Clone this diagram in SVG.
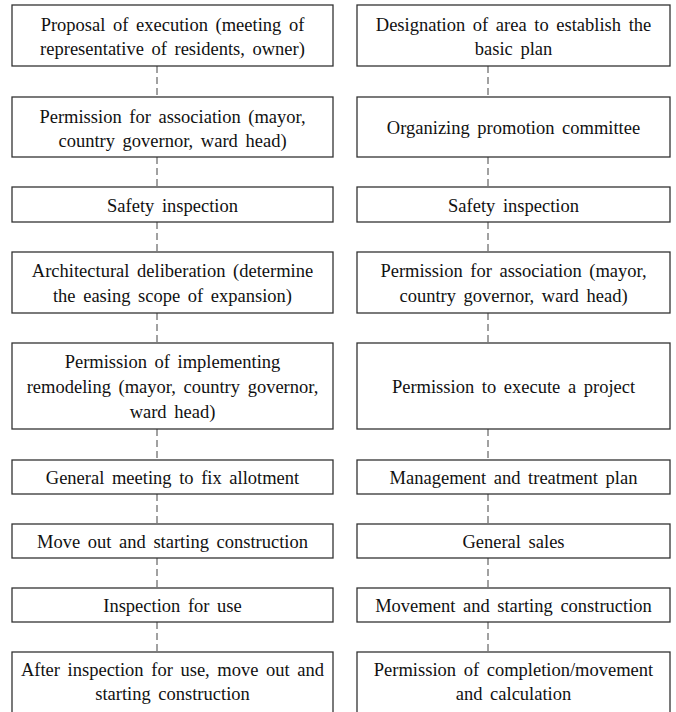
<svg xmlns="http://www.w3.org/2000/svg" width="676" height="712" viewBox="0 0 676 712">
<rect width="676" height="712" fill="#fff"/>
<g id="connectors" stroke="#555" stroke-width="1.1" stroke-dasharray="7 4" fill="none">
<line x1="157" y1="66" x2="157" y2="97"/>
<line x1="157" y1="157" x2="157" y2="187"/>
<line x1="157" y1="222" x2="157" y2="252"/>
<line x1="157" y1="313" x2="157" y2="343"/>
<line x1="157" y1="429" x2="157" y2="460"/>
<line x1="157" y1="494" x2="157" y2="524"/>
<line x1="157" y1="558" x2="157" y2="588"/>
<line x1="157" y1="622" x2="157" y2="652"/>
<line x1="488" y1="66" x2="488" y2="97"/>
<line x1="488" y1="157" x2="488" y2="187"/>
<line x1="488" y1="222" x2="488" y2="252"/>
<line x1="488" y1="313" x2="488" y2="343"/>
<line x1="488" y1="429" x2="488" y2="460"/>
<line x1="488" y1="494" x2="488" y2="524"/>
<line x1="488" y1="558" x2="488" y2="588"/>
<line x1="488" y1="622" x2="488" y2="652"/>
</g>
<g id="nodes" font-family="Times New Roman, Liberation Serif, serif" font-size="18.5" word-spacing="3" fill="#111" text-anchor="middle">
<g id="L1"><rect fill="#fff" stroke="#333" stroke-width="1.3" x="12" y="5" width="321" height="61"/><text font-family="Times New Roman, Liberation Serif, serif" x="172.5" y="30.5">Proposal of execution (meeting of</text><text font-family="Times New Roman, Liberation Serif, serif" x="172.5" y="54.5">representative of residents, owner)</text></g>
<g id="L2"><rect fill="#fff" stroke="#333" stroke-width="1.3" x="12" y="97" width="321" height="60"/><text font-family="Times New Roman, Liberation Serif, serif" x="172.5" y="122.5">Permission for association (mayor,</text><text font-family="Times New Roman, Liberation Serif, serif" x="172.5" y="146.5">country governor, ward head)</text></g>
<g id="L3"><rect fill="#fff" stroke="#333" stroke-width="1.3" x="12" y="187" width="321" height="35"/><text font-family="Times New Roman, Liberation Serif, serif" x="172.5" y="211.5">Safety inspection</text></g>
<g id="L4"><rect fill="#fff" stroke="#333" stroke-width="1.3" x="12" y="252" width="321" height="61"/><text font-family="Times New Roman, Liberation Serif, serif" x="172.5" y="277">Architectural deliberation (determine</text><text font-family="Times New Roman, Liberation Serif, serif" x="172.5" y="301.5">the easing scope of expansion)</text></g>
<g id="L5"><rect fill="#fff" stroke="#333" stroke-width="1.3" x="12" y="343" width="321" height="86"/><text font-family="Times New Roman, Liberation Serif, serif" x="172.5" y="368">Permission of implementing</text><text font-family="Times New Roman, Liberation Serif, serif" x="172.5" y="393">remodeling (mayor, country governor,</text><text font-family="Times New Roman, Liberation Serif, serif" x="172.5" y="418">ward head)</text></g>
<g id="L6"><rect fill="#fff" stroke="#333" stroke-width="1.3" x="12" y="460" width="321" height="34"/><text font-family="Times New Roman, Liberation Serif, serif" x="172.5" y="483.5">General meeting to fix allotment</text></g>
<g id="L7"><rect fill="#fff" stroke="#333" stroke-width="1.3" x="12" y="524" width="321" height="34"/><text font-family="Times New Roman, Liberation Serif, serif" x="172.5" y="547.5">Move out and starting construction</text></g>
<g id="L8"><rect fill="#fff" stroke="#333" stroke-width="1.3" x="12" y="588" width="321" height="34"/><text font-family="Times New Roman, Liberation Serif, serif" x="172.5" y="611.5">Inspection for use</text></g>
<g id="L9"><rect fill="#fff" stroke="#333" stroke-width="1.3" x="12" y="652" width="321" height="62"/><text font-family="Times New Roman, Liberation Serif, serif" x="172.5" y="675.5">After inspection for use, move out and</text><text font-family="Times New Roman, Liberation Serif, serif" x="172.5" y="700">starting construction</text></g>
<g id="R1"><rect fill="#fff" stroke="#333" stroke-width="1.3" x="357" y="5" width="313" height="61"/><text font-family="Times New Roman, Liberation Serif, serif" x="513.5" y="30.5">Designation of area to establish the</text><text font-family="Times New Roman, Liberation Serif, serif" x="513.5" y="54.5">basic plan</text></g>
<g id="R2"><rect fill="#fff" stroke="#333" stroke-width="1.3" x="357" y="97" width="313" height="60"/><text font-family="Times New Roman, Liberation Serif, serif" x="513.5" y="134">Organizing promotion committee</text></g>
<g id="R3"><rect fill="#fff" stroke="#333" stroke-width="1.3" x="357" y="187" width="313" height="35"/><text font-family="Times New Roman, Liberation Serif, serif" x="513.5" y="211.5">Safety inspection</text></g>
<g id="R4"><rect fill="#fff" stroke="#333" stroke-width="1.3" x="357" y="252" width="313" height="61"/><text font-family="Times New Roman, Liberation Serif, serif" x="513.5" y="277">Permission for association (mayor,</text><text font-family="Times New Roman, Liberation Serif, serif" x="513.5" y="301.5">country governor, ward head)</text></g>
<g id="R5"><rect fill="#fff" stroke="#333" stroke-width="1.3" x="357" y="343" width="313" height="86"/><text font-family="Times New Roman, Liberation Serif, serif" x="513.5" y="393">Permission to execute a project</text></g>
<g id="R6"><rect fill="#fff" stroke="#333" stroke-width="1.3" x="357" y="460" width="313" height="34"/><text font-family="Times New Roman, Liberation Serif, serif" x="513.5" y="483.5">Management and treatment plan</text></g>
<g id="R7"><rect fill="#fff" stroke="#333" stroke-width="1.3" x="357" y="524" width="313" height="34"/><text font-family="Times New Roman, Liberation Serif, serif" x="513.5" y="547.5">General sales</text></g>
<g id="R8"><rect fill="#fff" stroke="#333" stroke-width="1.3" x="357" y="588" width="313" height="34"/><text font-family="Times New Roman, Liberation Serif, serif" x="513.5" y="611.5">Movement and starting construction</text></g>
<g id="R9"><rect fill="#fff" stroke="#333" stroke-width="1.3" x="357" y="652" width="313" height="62"/><text font-family="Times New Roman, Liberation Serif, serif" x="513.5" y="675.5">Permission of completion/movement</text><text font-family="Times New Roman, Liberation Serif, serif" x="513.5" y="700">and calculation</text></g>
</g>
</svg>
